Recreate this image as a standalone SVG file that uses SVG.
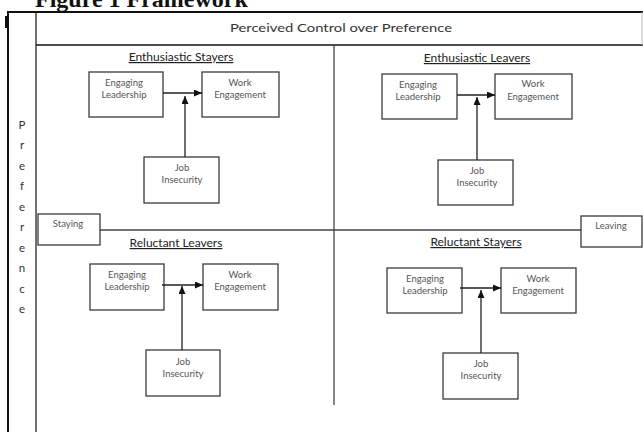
<svg xmlns="http://www.w3.org/2000/svg" width="643" height="432" viewBox="0 0 643 432">
<style>
.box{fill:#fff;stroke:#3a3a3a;stroke-width:1.3}
.bt{font-family:Lato,"Open Sans","Liberation Sans",sans-serif;font-size:9.5px;fill:#555;text-anchor:middle}
.hd{font-family:Lato,"Open Sans","Liberation Sans",sans-serif;font-size:12px;fill:#222;text-anchor:middle;text-decoration:underline}
.lt{font-family:Lato,"Open Sans","Liberation Sans",sans-serif;font-size:11.5px;fill:#333;text-anchor:middle}
.con{stroke:#222;stroke-width:1.3;fill:none}
.frame{stroke:#111;fill:none}
</style>
<defs>
<marker id="ah" markerUnits="userSpaceOnUse" markerWidth="9" markerHeight="8" refX="8" refY="3.5" orient="auto">
<path d="M0,0 L8,3.5 L0,7 z" fill="#111"/>
</marker>
</defs>
<rect width="643" height="432" fill="#fff"/>
<text x="35" y="7" font-family="'Liberation Serif',serif" font-weight="bold" font-size="24" fill="#111">Figure 1 Framework</text>
<g id="frame">
<line class="frame" x1="7" y1="12" x2="643" y2="12" stroke-width="2"/>
<line class="frame" x1="8" y1="12" x2="8" y2="432" stroke-width="2"/>
<line class="frame" x1="36" y1="12" x2="36" y2="432" stroke-width="1.2"/>
<line class="frame" x1="36" y1="45" x2="643" y2="45" stroke-width="1.6"/>
<line x1="642" y1="12" x2="642" y2="45" stroke="#bbb" stroke-width="1"/>
<rect x="5" y="16" width="2.5" height="12" fill="#111"/>
<line x1="334" y1="45" x2="334" y2="405" stroke="#444" stroke-width="1.3"/>
<line x1="100" y1="230" x2="581" y2="230" stroke="#444" stroke-width="1.3"/>
<text class="lt" x="341" y="32" font-size="16" textLength="222" lengthAdjust="spacingAndGlyphs">Perceived Control over Preference</text>
</g>
<g id="preference-axis" class="lt" font-size="11.5">
<text x="22" y="129">P</text>
<text x="22" y="149">r</text>
<text x="22" y="170">e</text>
<text x="22" y="190">f</text>
<text x="22" y="211">e</text>
<text x="22" y="231">r</text>
<text x="22" y="252">e</text>
<text x="22" y="272">n</text>
<text x="22" y="293">c</text>
<text x="22" y="313">e</text>
</g>
<g id="staying">
<rect class="box" x="38" y="214" width="62" height="31"/>
<text class="bt" x="68" y="227">Staying</text>
</g>
<g id="leaving">
<rect class="box" x="581" y="216" width="61" height="31"/>
<text class="bt" x="611" y="229">Leaving</text>
</g>
<text class="hd" x="181" y="61">Enthusiastic Stayers</text>
<text class="hd" x="477" y="62">Enthusiastic Leavers</text>
<text class="hd" x="176" y="247">Reluctant Leavers</text>
<text class="hd" x="476" y="246">Reluctant Stayers</text>
<g id="es-leadership"><rect class="box" x="89" y="72" width="74" height="45"/><text class="bt" x="124" y="86">Engaging</text><text class="bt" x="124" y="98">Leadership</text></g>
<g id="es-engagement"><rect class="box" x="202" y="72" width="77" height="45"/><text class="bt" x="240" y="86">Work</text><text class="bt" x="240" y="98">Engagement</text></g>
<g id="es-insecurity"><rect class="box" x="144" y="157" width="75" height="46"/><text class="bt" x="182" y="171">Job</text><text class="bt" x="182" y="183">Insecurity</text></g>
<g id="el-leadership"><rect class="box" x="382" y="74" width="75" height="45"/><text class="bt" x="418" y="88">Engaging</text><text class="bt" x="418" y="100">Leadership</text></g>
<g id="el-engagement"><rect class="box" x="495" y="74" width="77" height="45"/><text class="bt" x="533" y="87">Work</text><text class="bt" x="533" y="100">Engagement</text></g>
<g id="el-insecurity"><rect class="box" x="438" y="160" width="75" height="45"/><text class="bt" x="477" y="174">Job</text><text class="bt" x="477" y="186">Insecurity</text></g>
<g id="rl-leadership"><rect class="box" x="90" y="264" width="74" height="46"/><text class="bt" x="127" y="278">Engaging</text><text class="bt" x="127" y="290">Leadership</text></g>
<g id="rl-engagement"><rect class="box" x="203" y="264" width="75" height="46"/><text class="bt" x="240" y="278">Work</text><text class="bt" x="240" y="290">Engagement</text></g>
<g id="rl-insecurity"><rect class="box" x="146" y="350" width="74" height="46"/><text class="bt" x="183" y="365">Job</text><text class="bt" x="183" y="377">Insecurity</text></g>
<g id="rs-leadership"><rect class="box" x="387" y="268" width="75" height="45"/><text class="bt" x="425" y="282">Engaging</text><text class="bt" x="425" y="294">Leadership</text></g>
<g id="rs-engagement"><rect class="box" x="501" y="268" width="75" height="45"/><text class="bt" x="538" y="282">Work</text><text class="bt" x="538" y="294">Engagement</text></g>
<g id="rs-insecurity"><rect class="box" x="443" y="353" width="75" height="46"/><text class="bt" x="481" y="367">Job</text><text class="bt" x="481" y="379">Insecurity</text></g>
<g id="connectors" class="con">
<line x1="163" y1="93" x2="202" y2="93" marker-end="url(#ah)"/>
<line x1="185" y1="157" x2="185" y2="96" marker-end="url(#ah)"/>
<line x1="457" y1="95" x2="495" y2="95" marker-end="url(#ah)"/>
<line x1="477" y1="160" x2="477" y2="97" marker-end="url(#ah)"/>
<line x1="162" y1="285" x2="203" y2="285" marker-end="url(#ah)"/>
<line x1="182" y1="350" x2="182" y2="286" marker-end="url(#ah)"/>
<line x1="460" y1="288" x2="501" y2="288" marker-end="url(#ah)"/>
<line x1="481" y1="353" x2="481" y2="290" marker-end="url(#ah)"/>
</g>
</svg>
